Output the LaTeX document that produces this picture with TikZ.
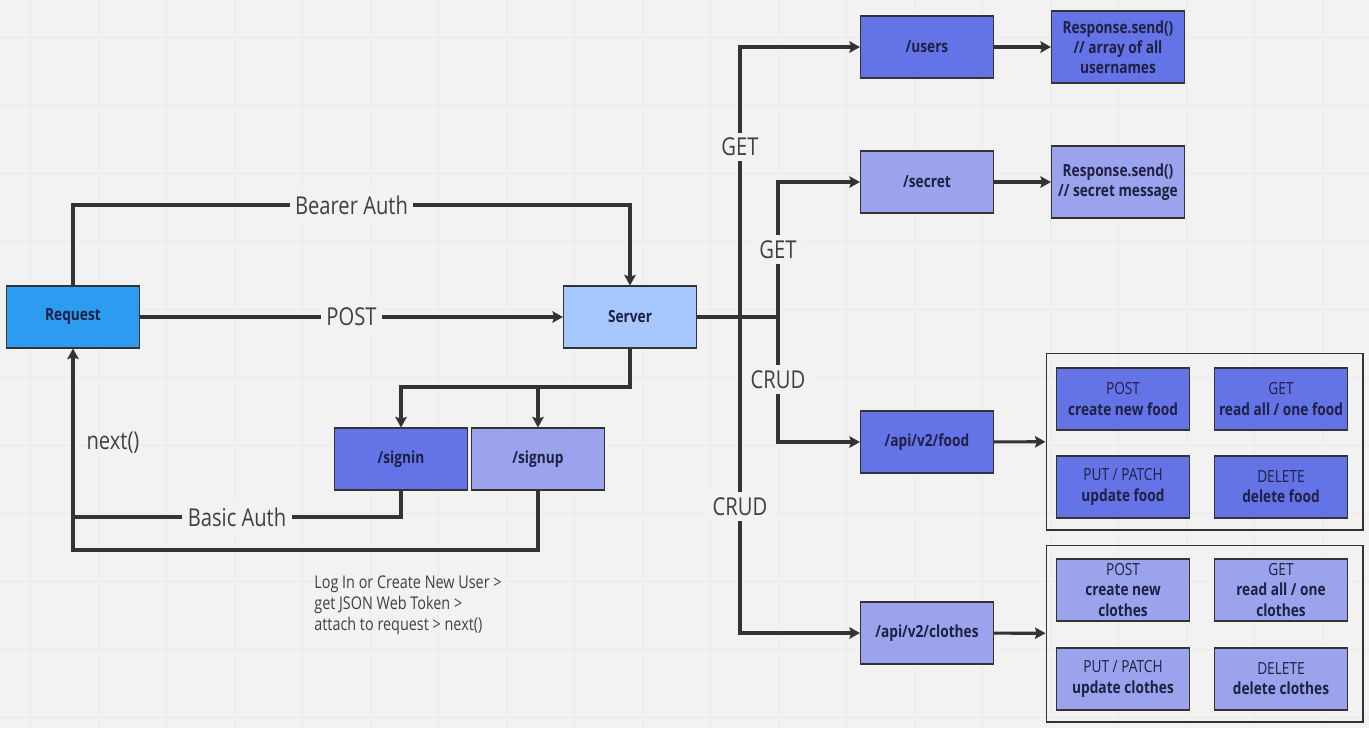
\documentclass[tikz,border=0pt]{standalone}
\usepackage{fontspec}
\setmainfont[FakeStretch=0.82]{Open Sans}
\usepackage{tikz}
\usetikzlibrary{arrows.meta}
\definecolor{bgc}{HTML}{F2F2F2}
\definecolor{gridc}{HTML}{EAEAEA}
\definecolor{linec}{HTML}{333333}
\definecolor{reqc}{HTML}{2D9BF0}
\definecolor{srvc}{HTML}{A7C8FE}
\definecolor{darkc}{HTML}{6473E6}
\definecolor{lightc}{HTML}{9AA3EB}
\definecolor{txtc}{HTML}{1E2144}

\begin{document}
\begin{tikzpicture}[x=0.02cm,y=-0.02cm,>={Stealth[length=6pt,width=6.5pt,inset=1pt]},
  box/.style={draw=linec,line width=0.6pt,minimum width=2.66cm,minimum height=1.24cm,align=center,text=txtc,inner sep=1pt,font=\fontsize{9.5}{11.5}\selectfont\bfseries},
  dk/.style={box,fill=darkc}, lt/.style={box,fill=lightc},
  grp/.style={draw=linec,line width=0.6pt,minimum width=6.34cm,minimum height=3.54cm},
  wire/.style={draw=linec,line width=1.8pt},
  lbl/.style={fill=bgc,text=black!75,inner sep=3pt,font=\fontsize{14}{16}\selectfont}]
\useasboundingbox[fill=bgc] (0,0) rectangle (1369,728);
\foreach \gx in {30,98,...,1369} \draw[gridc,line width=0.5pt] (\gx,0) -- (\gx,728);
\foreach \gy in {37,105,...,728} \draw[gridc,line width=0.5pt] (0,\gy) -- (1369,\gy);

\node[box,fill=reqc] (req) at (73,317) {Request}; \node[box,fill=srvc] (srv) at (630,317) {Server};
\node[dk] (signin) at (401,459) {/signin}; \node[lt] (signup) at (538,459) {/signup};

\node[dk] (users) at (927,47) {/users}; \node[dk,minimum height=1.44cm] (uresp) at (1118,47) {Response.send()\\// array of all\\usernames};
\node[lt] (secret) at (927,182) {/secret}; \node[lt,minimum height=1.44cm] (sresp) at (1118,182) {Response.send()\\// secret message};
\node[dk] (food) at (927,442) {/api/v2/food}; \node[lt] (clothes) at (927,633) {/api/v2/clothes};

\node[grp] (foodgrp) at (1204.5,441.5) {};
\node[dk] (fpost) at (1123,399) {{\mdseries POST}\\create new food}; \node[dk] (fget) at (1281,399) {{\mdseries GET}\\read all / one food};
\node[dk] (fput) at (1123,487) {{\mdseries PUT / PATCH}\\update food}; \node[dk] (fdel) at (1281,487) {{\mdseries DELETE}\\delete food};

\node[grp] (clgrp) at (1204.5,633.5) {};
\node[lt] (cpost) at (1123,590) {{\mdseries POST}\\create new\\clothes}; \node[lt] (cget) at (1281,590) {{\mdseries GET}\\read all / one\\clothes};
\node[lt] (cput) at (1123,679) {{\mdseries PUT / PATCH}\\update clothes}; \node[lt] (cdel) at (1281,679) {{\mdseries DELETE}\\delete clothes};

% request <-> server
\draw[wire,->] (req.north) -- (req.north |- 0,205) -- node[lbl] {Bearer Auth} (srv.north |- 0,205) -- (srv.north);
\draw[wire,->] (req) -- node[lbl] {POST} (srv);
\draw[wire,->] (srv.south) -- (srv.south |- 0,387) -| (signin.north); \draw[wire,->] (signup.north |- 0,387) -- (signup.north);
\draw[wire] (signin.south) |- node[lbl,pos=0.75] {Basic Auth} (req.south |- 0,517);
\draw[wire,->] (signup.south) |- (req.south |- 0,550) -- (req.south);
\node[lbl,fill=none] (nxt) at (113,443) {next()};
\node[anchor=north west,align=left,text=black!75,inner sep=0pt,font=\fontsize{10}{12}\selectfont] (memo) at (314,575) {Log In or Create New User >\\get JSON Web Token >\\attach to request > next()};

% routes
\coordinate (jl) at (740,317); \coordinate (jr) at (778,317);
\draw[wire] (srv.east) -- (jr);
\draw[wire,->] (jl) |- node[lbl,pos=0.315] {GET} (users.west);
\draw[wire,->] (jl) |- node[lbl,pos=0.3] {CRUD} (clothes.west);
\draw[wire,->] (jr) |- node[lbl,pos=0.25] {GET} (secret.west);
\draw[wire,->] (jr) |- node[lbl,pos=0.25] {CRUD} (food.west);
\draw[wire,->] (users) -- (uresp); \draw[wire,->] (secret) -- (sresp);
\draw[wire,->] (food) -- (foodgrp); \draw[wire,->] (clothes) -- (clgrp);
\end{tikzpicture}
\end{document}
